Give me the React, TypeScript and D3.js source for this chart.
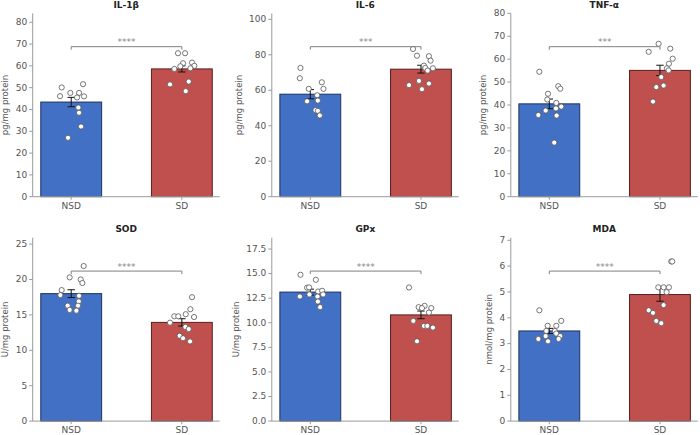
import React from 'react';
import * as d3 from 'd3';

// groups and panels
const groups = ['NSD', 'SD'];
const titles = ['IL-1β', 'IL-6', 'TNF-α', 'SOD', 'GPx', 'MDA'];
const yLabels = ['pg/mg protein', 'pg/mg protein', 'pg/mg protein', 'U/mg protein', 'U/mg protein', 'nmol/mg protein'];
const yMax = [84.1, 103.4, 80, 25.9, 18.65, 7.1];
const stars = ['****', '***', '***', '****', '****', '****'];

// tick labels
const il1bTicks = [0, 10, 20, 30, 40, 50, 60, 70, 80];
const il6Ticks = [0, 20, 40, 60, 80, 100];
const tnfTicks = [0, 10, 20, 30, 40, 50, 60, 70, 80];
const sodTicks = [0, 5, 10, 15, 20, 25];
const gpxTicks = [0, 2.5, 5, 7.5, 10, 12.5, 15, 17.5];
const mdaTicks = [0, 1, 2, 3, 4, 5, 6, 7];
const tickSets = [il1bTicks, il6Ticks, tnfTicks, sodTicks, gpxTicks, mdaTicks];

// group means and SEM (NSD, SD)
const il1bMean = [43.4, 58.6];
const il1bSem = [2.15, 1.4];
const il6Mean = [57.8, 71.9];
const il6Sem = [2.6, 2.2];
const tnfMean = [40.5, 55.1];
const tnfSem = [2.1, 2.25];
const sodMean = [18.0, 13.94];
const sodSem = [0.55, 0.52];
const gpxMean = [13.12, 10.8];
const gpxSem = [0.3, 0.39];
const mdaMean = [3.49, 4.9];
const mdaSem = [0.1, 0.26];

// individual samples
const il1bNSD = [50.1, 51.6, 47.6, 47.6, 46.1, 45.5, 46.0, 40.9, 38.5, 32.2, 27.0];
const il1bNSDJit = [-0.086, 0.107, -0.008, 0.071, -0.101, 0.053, 0.116, 0.065, 0.071, 0.089, -0.029];
const il1bSD = [65.8, 65.8, 61.2, 61.5, 60.0, 58.6, 59.8, 58.9, 52.8, 51.5, 48.4];
const il1bSDJit = [-0.035, 0.029, 0.011, 0.092, 0.113, -0.068, -0.014, 0.077, 0.062, -0.107, 0.035];

const il6NSD = [72.6, 66.8, 64.5, 60.8, 60.8, 57.2, 53.8, 54.2, 48.8, 48.4, 45.8];
const il6NSDJit = [-0.089, -0.095, 0.104, -0.014, 0.119, 0.062, -0.029, 0.068, 0.047, 0.068, 0.086];
const il6SD = [83.3, 79.5, 79.2, 76.7, 73.9, 72.4, 72.6, 71.1, 65.3, 63.8, 62.9, 60.6];
const il6SDJit = [-0.072, -0.036, 0.072, 0.087, 0.027, 0.108, 0.039, 0.06, -0.018, 0.072, -0.108, 0.009];

const tnfNSD = [54.5, 44.9, 48.2, 47.1, 42.4, 40.9, 39.3, 38.5, 37.6, 35.6, 35.4, 23.6];
const tnfNSDJit = [-0.09, -0.012, 0.081, 0.099, -0.018, 0.063, 0.108, 0.06, -0.033, -0.099, 0.066, 0.045];
const tnfSD = [66.7, 63.2, 64.6, 60.2, 58.0, 56.0, 55.1, 52.2, 47.8, 48.5, 41.5];
const tnfSDJit = [-0.012, -0.102, 0.093, 0.115, 0.081, 0.063, 0.078, 0.012, -0.033, 0.033, -0.063];

const sodNSD = [21.9, 20.3, 20.0, 19.5, 18.5, 17.8, 17.7, 16.9, 16.3, 16.3, 15.7, 15.6];
const sodNSDJit = [0.113, -0.014, 0.086, 0.101, -0.086, -0.098, 0.071, 0.068, -0.032, 0.062, -0.014, 0.047];
const sodSD = [17.5, 15.8, 15.1, 14.8, 14.8, 14.7, 13.9, 13.3, 13.0, 12.05, 11.7, 11.25];
const sodSDJit = [0.092, 0.077, 0.035, -0.068, -0.032, 0.11, -0.107, 0.032, 0.062, -0.02, 0.011, 0.074];

const gpxNSD = [14.88, 14.37, 13.56, 13.6, 13.18, 13.25, 12.88, 12.88, 12.67, 12.67, 12.16, 11.59];
const gpxNSDJit = [-0.089, 0.05, -0.029, -0.011, 0.071, 0.107, -0.008, 0.116, -0.095, 0.065, 0.068, 0.089];
const gpxSD = [13.59, 11.72, 11.59, 11.49, 11.49, 11.04, 10.19, 9.68, 9.68, 9.51, 8.12];
const gpxSDJit = [-0.108, 0.033, -0.021, 0.009, 0.093, 0.072, -0.069, 0.027, 0.057, 0.108, -0.036];

const mdaNSD = [4.29, 3.88, 3.69, 3.69, 3.49, 3.49, 3.39, 3.29, 3.29, 3.18, 3.18, 3.09];
const mdaNSDJit = [-0.09, 0.108, -0.015, 0.063, 0.051, -0.027, 0.063, 0.099, -0.033, -0.099, 0.084, -0.012];
const mdaSD = [6.18, 6.18, 5.18, 5.18, 5.18, 4.99, 4.49, 4.29, 4.19, 3.88, 3.79];
const mdaSDJit = [0.102, 0.111, -0.015, 0.033, 0.081, 0.06, 0.033, -0.102, -0.063, -0.033, 0.012];

const means = [il1bMean, il6Mean, tnfMean, sodMean, gpxMean, mdaMean];
const sems = [il1bSem, il6Sem, tnfSem, sodSem, gpxSem, mdaSem];
const points = [
  [il1bNSD, il1bSD],
  [il6NSD, il6SD],
  [tnfNSD, tnfSD],
  [sodNSD, sodSD],
  [gpxNSD, gpxSD],
  [mdaNSD, mdaSD],
];
const jitters = [
  [il1bNSDJit, il1bSDJit],
  [il6NSDJit, il6SDJit],
  [tnfNSDJit, tnfSDJit],
  [sodNSDJit, sodSDJit],
  [gpxNSDJit, gpxSDJit],
  [mdaNSDJit, mdaSDJit],
];

const colors = ['#4170c4', '#c0504e'];
const edges = ['#1d3260', '#5a1f1e'];
const font = 'DejaVu Sans, sans-serif';

const W = 700;
const H = 435;
const plotW = 187;
const colX = [32.7, 271.8, 510.8];
const rowY = [13.3, 237.7];
const plotH = 183.4;

// rough text width for DejaVu Sans digits
const textWidth = (s: string, size: number) =>
  s.split('').reduce((a, c) => a + (c === '.' ? 0.318 : 0.636), 0) * size;

const Panel: React.FC<{ i: number }> = ({ i }) => {
  const left = colX[i % 3];
  const top = rowY[Math.floor(i / 3)];
  const x = d3.scaleLinear().domain([-0.348, 1.342]).range([0, plotW]);
  const y = d3.scaleLinear().domain([0, yMax[i]]).range([plotH, 0]);
  const barW = x(0.55) - x(0);
  const ticks = tickSets[i];
  const fmt = (v: number) => (ticks.some((t) => t % 1 !== 0) ? v.toFixed(1) : String(v));
  const maxLabelW = d3.max(ticks, (t) => textWidth(fmt(t), 9)) ?? 0;
  const bracketY = y(yMax[i] * 0.818);
  const axisColor = '#9a9a9a';

  return (
    <g transform={`translate(${left},${top})`}>
      <text x={plotW / 2} y={-5.3} textAnchor="middle" fontFamily={font} fontSize={9} fontWeight="bold" fill="#222">
        {titles[i]}
      </text>
      {groups.map((g, k) => (
        <rect
          key={g}
          x={x(k) - barW / 2}
          y={y(means[i][k])}
          width={barW}
          height={plotH - y(means[i][k])}
          fill={colors[k]}
          stroke={edges[k]}
          strokeWidth={1}
        />
      ))}
      {groups.map((g, k) => (
        <g key={g + 'e'} stroke="#111" strokeWidth={1}>
          <line x1={x(k)} x2={x(k)} y1={y(means[i][k] - sems[i][k])} y2={y(means[i][k] + sems[i][k])} />
          <line x1={x(k) - 3.7} x2={x(k) + 3.7} y1={y(means[i][k] - sems[i][k])} y2={y(means[i][k] - sems[i][k])} />
          <line x1={x(k) - 3.7} x2={x(k) + 3.7} y1={y(means[i][k] + sems[i][k])} y2={y(means[i][k] + sems[i][k])} />
        </g>
      ))}
      {groups.map((g, k) =>
        points[i][k].map((v, j) => (
          <circle
            key={g + j}
            cx={x(k + jitters[i][k][j])}
            cy={y(v)}
            r={2.6}
            fill="#fff"
            stroke="#555"
            strokeWidth={0.8}
          />
        ))
      )}
      <path
        d={`M${x(0)},${bracketY + 3}V${bracketY}H${x(1)}V${bracketY + 3}`}
        fill="none"
        stroke="#808080"
        strokeWidth={1}
      />
      <text x={(x(0) + x(1)) / 2} y={bracketY - 1.5} textAnchor="middle" fontFamily={font} fontSize={9} fill="#888">
        {stars[i]}
      </text>
      <line x1={0} x2={0} y1={0} y2={plotH} stroke={axisColor} strokeWidth={1} />
      <line x1={0} x2={plotW} y1={plotH} y2={plotH} stroke={axisColor} strokeWidth={1} />
      {ticks.map((t) => (
        <g key={t} transform={`translate(0,${y(t)})`}>
          <line x1={-3.5} x2={0} stroke={axisColor} />
          <text x={-5.5} dy="0.32em" textAnchor="end" fontFamily={font} fontSize={9} fill="#555">
            {fmt(t)}
          </text>
        </g>
      ))}
      {groups.map((g, k) => (
        <g key={g + 't'} transform={`translate(${x(k)},${plotH})`}>
          <line y1={0} y2={3} stroke={axisColor} />
          <text y={12.3} textAnchor="middle" fontFamily={font} fontSize={9} fill="#555">
            {g}
          </text>
        </g>
      ))}
      <text
        transform={`translate(${-5.5 - maxLabelW - 7.5},${plotH / 2}) rotate(-90)`}
        textAnchor="middle"
        fontFamily={font}
        fontSize={8.5}
        fill="#555"
      >
        {yLabels[i]}
      </text>
    </g>
  );
};

const App: React.FC = () => (
  <svg width={W} height={H} style={{ position: 'absolute', left: 0, top: 0, background: '#fff' }}>
    {titles.map((t, i) => (
      <Panel key={t} i={i} />
    ))}
  </svg>
);

export default App;
